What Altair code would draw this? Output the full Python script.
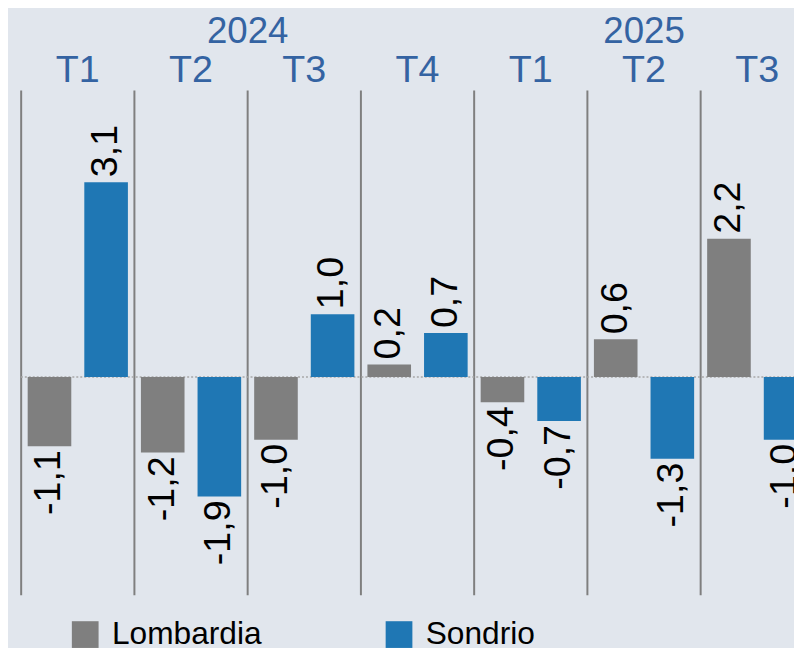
import altair as alt
import pandas as pd

# ---- data ----
keys = ["2024-T1", "2024-T2", "2024-T3", "2024-T4", "2025-T1", "2025-T2", "2025-T3"]
quarter_labels = ["T1", "T2", "T3", "T4", "T1", "T2", "T3"]
years = ["2024", "2025"]
series = ["Lombardia", "Sondrio"]
lombardia = [-1.1, -1.2, -1.0, 0.2, -0.4, 0.6, 2.2]
sondrio = [3.1, -1.9, 1.0, 0.7, -0.7, -1.3, -1.0]
colors = ["#7f7f7f", "#1f77b4"]

rows = []
for k, a, b in zip(keys, lombardia, sondrio):
    rows.append({"q": k, "serie": series[0], "v": a})
    rows.append({"q": k, "serie": series[1], "v": b})
df = pd.DataFrame(rows)
df["label"] = df["v"].map(lambda x: f"{x:.1f}".replace(".", ","))

qdf = pd.DataFrame({"q": keys, "t": quarter_labels})

FONT = "Liberation Sans"
HEAD = "#3463a2"
BG = "#e1e6ed"

xscale = alt.Scale(domain=keys, range=[13.3, 814.1], paddingInner=0, paddingOuter=0)
yscale = alt.Scale(domain=[-4.26, 5.819], nice=False)
xo_scale = alt.Scale(domain=series, paddingInner=0.23, paddingOuter=0.115)

X = alt.X("q:N", scale=xscale, axis=None)
XO = alt.XOffset("serie:N", scale=xo_scale, sort=series)
Y = alt.Y("v:Q", scale=yscale, axis=None, stack=None)

separators = alt.Chart(qdf).mark_rule(color="#7f7f7f", strokeWidth=2).encode(
    x=alt.X("q:N", scale=xscale, axis=None, bandPosition=0),
    y=alt.value(80),
    y2=alt.value(590),
)

zero = alt.Chart(pd.DataFrame({"z": [0]})).mark_rule(
    color="#a8a8a8", strokeWidth=1.5, strokeDash=[2, 2]
).encode(y=alt.Y("z:Q", scale=yscale, axis=None), x=alt.value(13), x2=alt.value(794))

bars = alt.Chart(df).mark_bar().encode(
    x=X,
    xOffset=XO,
    y=Y,
    color=alt.Color(
        "serie:N",
        scale=alt.Scale(domain=series, range=colors),
        legend=alt.Legend(
            orient="none",
            legendX=62,
            legendY=613.7,
            direction="horizontal",
            title=None,
            symbolType="square",
            symbolSize=729,
            symbolStrokeWidth=0,
            symbolOpacity=1,
            labelFont=FONT,
            labelFontSize=32,
            labelColor="black",
            labelOffset=11,
            labelLimit=400,
            columnPadding=122,
            padding=0,
        ),
    ),
)

tbase = alt.Chart(df).encode(x=X, xOffset=XO, y=Y, text="label:N")
pos_labels = tbase.transform_filter("datum.v >= 0").mark_text(
    angle=270, align="left", baseline="middle", dx=5, font=FONT, fontSize=38, color="black"
)
neg_labels = tbase.transform_filter("datum.v < 0").mark_text(
    angle=270, align="right", baseline="middle", dx=-4, font=FONT, fontSize=38, color="black"
)

qtext = alt.Chart(qdf).mark_text(
    font=FONT, fontSize=38, color=HEAD, baseline="alphabetic", align="center"
).encode(x=alt.X("q:N", scale=xscale, axis=None, bandPosition=0.5), y=alt.value(72), text="t:N")

y2024 = alt.Chart(pd.DataFrame({"q": [keys[2]], "y": [years[0]]})).mark_text(
    font=FONT, fontSize=37, color=HEAD, baseline="alphabetic", align="center"
).encode(x=alt.X("q:N", scale=xscale, axis=None, bandPosition=0), y=alt.value(32), text="y:N")

y2025 = alt.Chart(pd.DataFrame({"q": [keys[5]], "y": [years[1]]})).mark_text(
    font=FONT, fontSize=37, color=HEAD, baseline="alphabetic", align="center"
).encode(x=alt.X("q:N", scale=xscale, axis=None, bandPosition=0.5), y=alt.value(32), text="y:N")

chart = alt.layer(
    separators, zero, bars, pos_labels, neg_labels, qtext, y2024, y2025
).properties(
    width=794,
    height=640,
    autosize=alt.AutoSizeParams(type="none"),
    padding=0,
    background=BG,
).configure_view(stroke=None)

chart.save("out.html", embed_options={"renderer": "svg", "actions": False})
